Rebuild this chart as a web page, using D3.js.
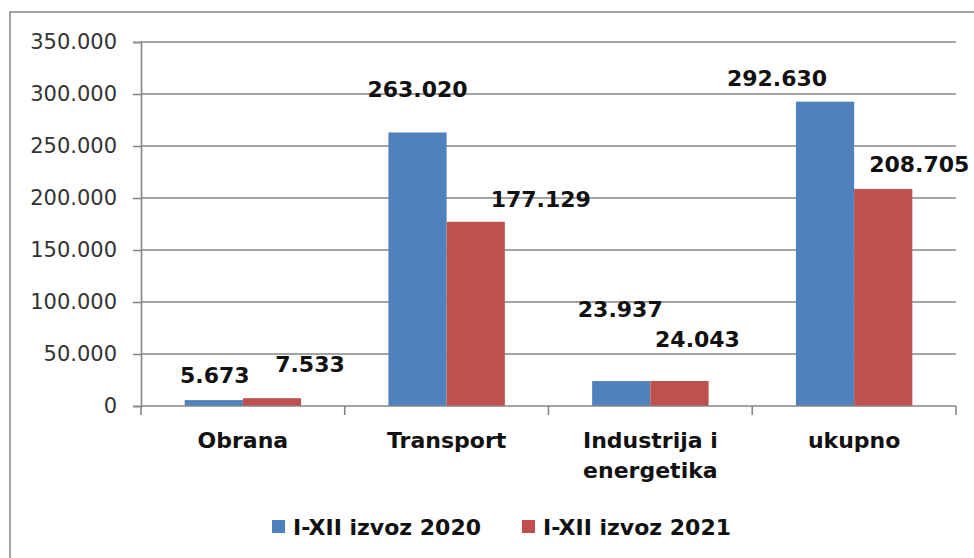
<!DOCTYPE html>
<html>
<head>
	<meta charset="utf-8">
	<title>Izvoz</title>
	<script src="https://d3js.org/d3.v7.min.js" charset="utf-8"></script>
	<style>
		body { margin: 0; background: #fff; }
		text { font-family: "DejaVu Sans", Verdana, sans-serif; }
	</style>
</head>
<body>
	<svg width="974" height="558"></svg>
	<script>
		// data
		var categories = [["Obrana"], ["Transport"], ["Industrija i", "energetika"], ["ukupno"]];
		var seriesNames = ["I-XII izvoz 2020", "I-XII izvoz 2021"];
		var values2020 = [5673, 263020, 23937, 292630];
		var values2021 = [7533, 177129, 24043, 208705];
		var yTicks = [0, 50000, 100000, 150000, 200000, 250000, 300000, 350000];

		// labels were dragged around by hand in the original, so keep their nudges (dx, dy)
		var labelNudge = [
			[[1, -17], [38, -26]],
			[[0, -35], [65, -15]],
			[[-1, -64], [18, -34]],
			[[-48, -16], [36, -17]]
		];

		var colors = ["#4F81BD", "#C0504D"];
		var gridColor = "#868686";

		const plotLeft = 141, plotRight = 956, plotTop = 42, plotBottom = 406;

		var svg = d3.select('svg');

		// outer chart border (right/bottom run off the picture)
		svg.append('rect')
			.attr('x', 10).attr('y', 12)
			.attr('width', 1000).attr('height', 600)
			.attr('fill', 'none')
			.attr('stroke', gridColor)
			.attr('stroke-width', 1.5);

		const xScale = d3.scaleBand()
			.domain(d3.range(categories.length))
			.range([plotLeft, plotRight]);

		const yScale = d3.scaleLinear()
			.domain([0, 350000])
			.range([plotBottom, plotTop]);

		// bars: 75% gap width like excel
		const barW = xScale.bandwidth() / 3.5;
		const inner = d3.scaleBand()
			.domain([0, 1])
			.range([barW * 0.75, barW * 2.75]);

		const fmt = d3.formatLocale({ decimal: ",", thousands: ".", grouping: [3] }).format(",");

		// gridlines
		svg.append('g')
			.selectAll('line')
			.data(yTicks.slice(1))
			.enter()
			.append('line')
			.attr('x1', plotLeft).attr('x2', plotRight)
			.attr('y1', d => yScale(d)).attr('y2', d => yScale(d))
			.attr('stroke', gridColor)
			.attr('stroke-width', 1.6);

		// y axis
		const yAxis = svg.append('g')
			.attr('transform', `translate(${plotLeft}, 0)`)
			.call(d3.axisLeft(yScale).tickValues(yTicks).tickSize(8).tickPadding(16).tickFormat(fmt));
		yAxis.select('.domain').attr('stroke', gridColor).attr('stroke-width', 1.6);
		yAxis.selectAll('.tick line').attr('stroke', gridColor).attr('stroke-width', 1.6);
		yAxis.selectAll('.tick text')
			.attr('font-size', 21)
			.attr('fill', '#333')
			.style('font-family', '"DejaVu Sans", sans-serif');

		// bars
		var series = [values2020, values2021];
		series.forEach(function (vals, s) {
			svg.append('g')
				.selectAll('rect')
				.data(vals)
				.enter()
				.append('rect')
				.attr('fill', colors[s])
				.attr('x', (d, i) => xScale(i) + inner(s))
				.attr('width', inner.bandwidth())
				.attr('y', d => yScale(d))
				.attr('height', d => plotBottom - yScale(d));
		});

		// x axis with ticks between categories
		const xAxis = svg.append('g')
			.attr('transform', `translate(0, ${plotBottom})`);
		xAxis.append('line')
			.attr('x1', plotLeft).attr('x2', plotRight)
			.attr('stroke', gridColor).attr('stroke-width', 1.6);
		xAxis.selectAll('.ctick')
			.data(d3.range(categories.length + 1))
			.enter()
			.append('line')
			.attr('x1', i => plotLeft + i * xScale.step())
			.attr('x2', i => plotLeft + i * xScale.step())
			.attr('y1', 0).attr('y2', 9)
			.attr('stroke', gridColor).attr('stroke-width', 1.6);

		// category labels
		svg.append('g')
			.selectAll('text')
			.data(categories)
			.enter()
			.append('text')
			.attr('text-anchor', 'middle')
			.attr('font-size', 22)
			.attr('font-weight', 'bold')
			.attr('fill', '#111')
			.attr('transform', (d, i) => `translate(${xScale(i) + xScale.bandwidth() / 2}, 448)`)
			.selectAll('tspan')
			.data(d => d)
			.enter()
			.append('tspan')
			.attr('x', 0)
			.attr('y', (d, j) => j * 30)
			.text(d => d);

		// data labels
		series.forEach(function (vals, s) {
			svg.append('g')
				.selectAll('text')
				.data(vals)
				.enter()
				.append('text')
				.attr('text-anchor', 'middle')
				.attr('font-size', 22)
				.attr('font-weight', 'bold')
				.attr('fill', '#111')
				.attr('x', (d, i) => xScale(i) + inner(s) + inner.bandwidth() / 2 + labelNudge[i][s][0])
				.attr('y', (d, i) => yScale(d) + labelNudge[i][s][1])
				.text(d => fmt(d));
		});

		// legend
		const legend = svg.append('g');
		var legendX = [272, 522];
		seriesNames.forEach(function (name, s) {
			legend.append('rect')
				.attr('x', legendX[s]).attr('y', 520)
				.attr('width', 13).attr('height', 13)
				.attr('fill', colors[s]);
			legend.append('text')
				.attr('x', legendX[s] + 21).attr('y', 535)
				.attr('font-size', 22)
				.attr('font-weight', 'bold')
				.attr('fill', '#111')
				.text(name);
		});
	</script>
</body>
</html>
